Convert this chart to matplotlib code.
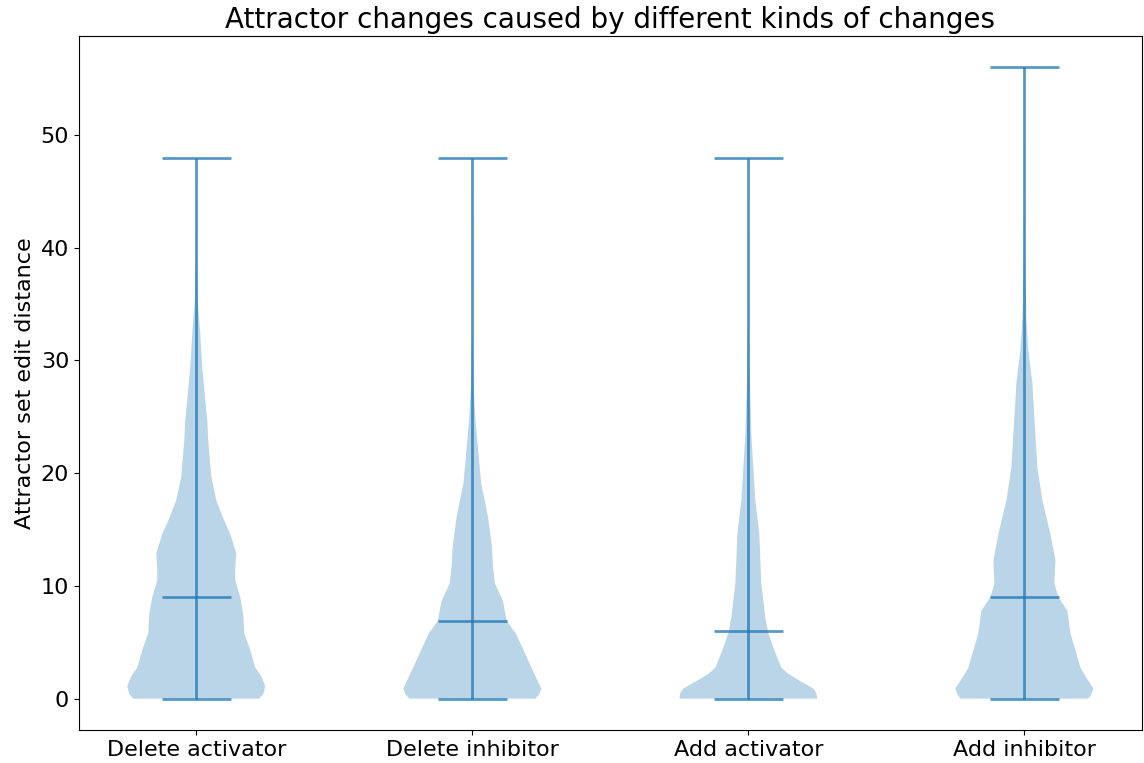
import matplotlib
matplotlib.use("Agg")
import matplotlib.pyplot as plt

# ---- DATA ----
labels = ["Delete activator", "Delete inhibitor", "Add activator", "Add inhibitor"]
medians = [9.0, 6.9, 6.0, 9.0]
mins = [0, 0, 0, 0]
maxs = [48, 48, 48, 56]

# density profiles: y value -> relative half width
delete_act_y = [0, 0.4, 1.1, 2.0, 2.75, 4.3, 5.8, 7.5, 9.0, 10.5, 11.5, 12.9, 14.6, 16.0, 17.6, 19.7, 22.9, 24.7, 26.5, 29.4, 32.4, 35.3, 40, 48]
delete_act_w = [63, 67, 69, 65, 59, 54, 48, 47, 44, 39, 39, 40, 34, 27, 20, 15, 12, 11, 9, 6, 4, 1.5, 0.3, 0.1]

delete_inh_y = [0, 0.4, 0.9, 2.0, 2.75, 4.3, 5.8, 6.9, 8.7, 10.2, 11.7, 13.4, 16.1, 19.1, 22.0, 25.0, 28.0, 32.4, 40, 48]
delete_inh_w = [64, 68, 70, 64, 60, 52, 44, 35, 31, 23, 21, 20, 16, 9, 6, 3, 1.2, 0.4, 0.2, 0.1]

add_act_y = [0, 0.5, 0.9, 1.6, 2.2, 2.75, 4.3, 5.8, 7.2, 8.7, 10.2, 12.3, 14.6, 17.6, 20.5, 23.5, 26.5, 29.4, 35, 48]
add_act_w = [69, 68, 65, 51, 40, 33, 26, 20, 17, 15, 13, 12, 11, 7, 5, 3, 2, 1, 0.3, 0.1]

add_inh_y = [0, 0.4, 0.9, 2.0, 2.75, 4.3, 5.8, 7.8, 9.0, 10.2, 12.3, 14.6, 17.6, 20.5, 23.5, 25.0, 28.0, 30.9, 33.8, 38, 45, 56]
add_inh_w = [64, 67, 69, 61, 56, 51, 46, 43, 34, 30, 31, 26, 18, 13, 11, 10, 8, 4, 2, 0.8, 0.2, 0.1]

profiles = [(delete_act_y, delete_act_w), (delete_inh_y, delete_inh_w),
            (add_act_y, add_act_w), (add_inh_y, add_inh_w)]

# ---- BUILD VIOLIN STATS ----
vpstats = []
for i, (ys, ws) in enumerate(profiles):
    vpstats.append({
        "coords": ys,
        "vals": ws,
        "mean": medians[i],
        "median": medians[i],
        "min": mins[i],
        "max": maxs[i],
    })

# ---- PLOT ----
fig = plt.figure(figsize=(11.44, 7.63), dpi=100)
ax = fig.add_subplot(111)
fig.subplots_adjust(left=0.069, right=0.998, top=0.953, bottom=0.043)

positions = [1, 2, 3, 4]
parts = ax.violin(vpstats, positions=positions, showmedians=True)
for key in ["cmins", "cmaxes", "cbars", "cmedians"]:
    parts[key].set_alpha(0.75)
    parts[key].set_linewidth(2)

ax.set_xticks(positions)
ax.set_xticklabels(labels, fontsize=16)
ax.tick_params(axis="y", labelsize=16)
ax.set_ylabel("Attractor set edit distance", fontsize=16)
ax.set_title("Attractor changes caused by different kinds of changes", fontsize=20)

plt.savefig("out.png", dpi=100)
